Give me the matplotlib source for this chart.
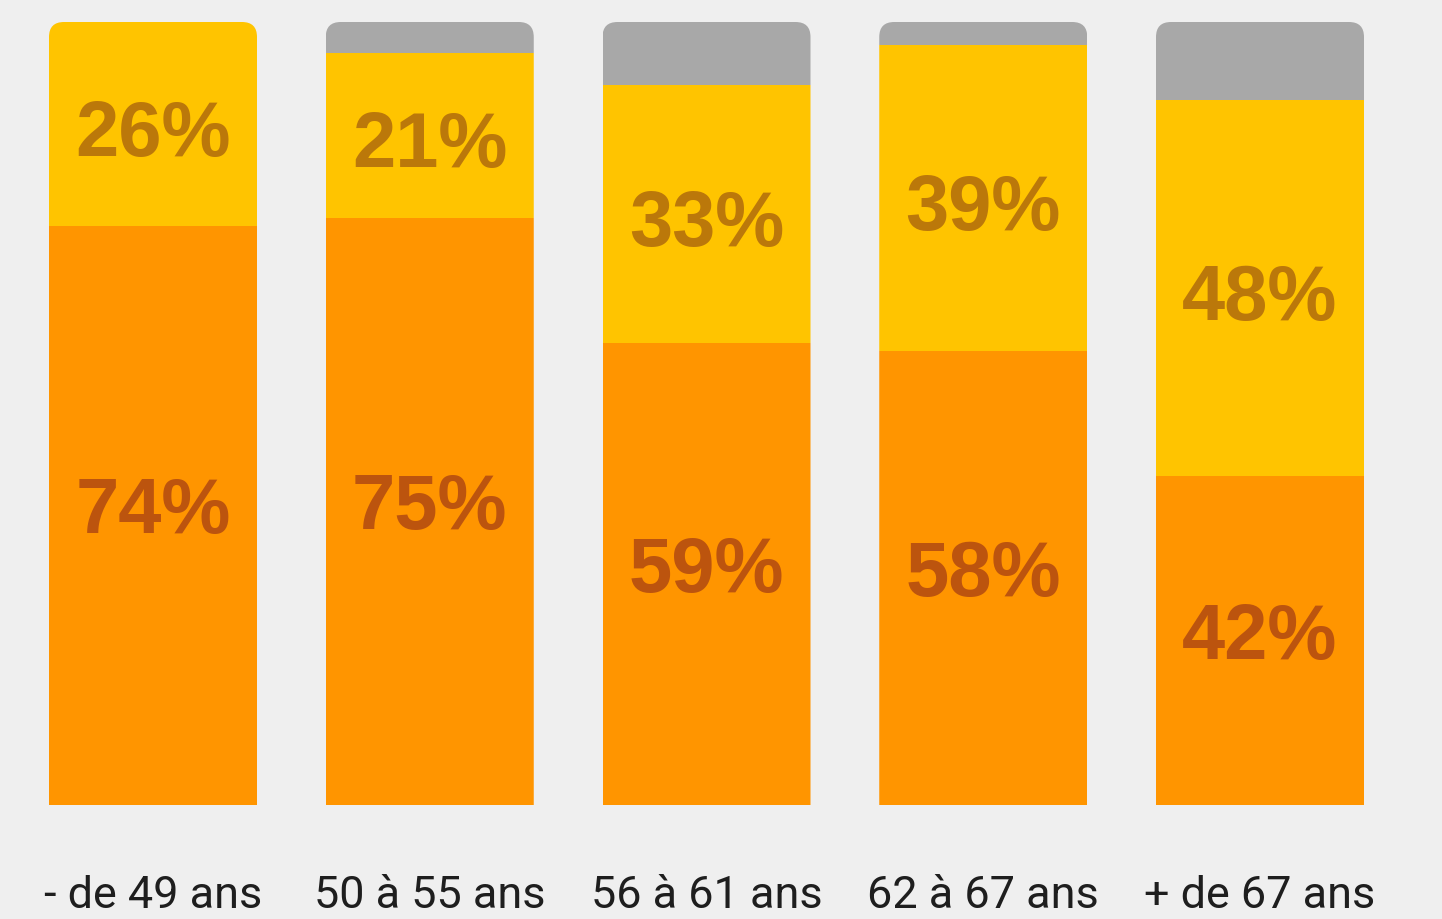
import matplotlib.pyplot as plt
from matplotlib.patches import FancyBboxPatch

# donnees
categories = ['- de 49 ans', '50 à 55 ans', '56 à 61 ans', '62 à 67 ans', '+ de 67 ans']
orange_vals = [74, 75, 59, 58, 42]
jaune_vals = [26, 21, 33, 39, 48]
gris_vals = [0, 4, 8, 3, 10]

fond = '#efefef'
c_orange = '#ff9500'
c_jaune = '#ffc400'
c_gris = '#a8a8a8'
txt_orange = '#bc540e'
txt_jaune = '#bb780a'

fig = plt.figure(figsize=(14.42, 9.19), dpi=100, facecolor=fond)
ax = fig.add_axes([0, 114 / 919, 1, 783 / 919])
ax.set_facecolor(fond)

pas = 276.75
ax.set_xlim(-153 / pas, (1442 - 153) / pas)
ax.set_ylim(0, 100)
largeur = 208 / pas

x = list(range(len(categories)))
bas2 = orange_vals
bas3 = [o + j for o, j in zip(orange_vals, jaune_vals)]

b1 = ax.bar(x, orange_vals, width=largeur, color=c_orange)
b2 = ax.bar(x, jaune_vals, width=largeur, bottom=bas2, color=c_jaune)
b3 = ax.bar(x, gris_vals, width=largeur, bottom=bas3, color=c_gris)

# coins arrondis en haut des barres
r_x = 15 / pas
r_y = 15 / 7.83
for i in x:
    clip = FancyBboxPatch((i - largeur / 2, -10), largeur, 110,
                          boxstyle='round,pad=0,rounding_size=%f' % r_x,
                          mutation_aspect=r_y / r_x,
                          transform=ax.transData, facecolor='none', edgecolor='none')
    ax.add_patch(clip)
    for b in (b1, b2, b3):
        b[i].set_clip_path(clip)

# etiquettes: ligne de base decalee de la moitie de la hauteur des chiffres
for i in x:
    ax.annotate('%d%%' % orange_vals[i], (i, orange_vals[i] / 2), xytext=(0, -13),
                textcoords='offset points', ha='center', va='baseline',
                fontsize=56, fontweight='bold', family='Liberation Sans', color=txt_orange)
    ax.annotate('%d%%' % jaune_vals[i], (i, bas2[i] + jaune_vals[i] / 2), xytext=(0, -23),
                textcoords='offset points', ha='center', va='baseline',
                fontsize=56, fontweight='bold', family='Liberation Sans', color=txt_jaune)
    ax.text(i, -11.6, categories[i], ha='center', va='center',
            fontsize=32.4, family='Roboto', color='#1e1e1e')

ax.axis('off')
fig.savefig('out.png', dpi=100, facecolor=fond)
